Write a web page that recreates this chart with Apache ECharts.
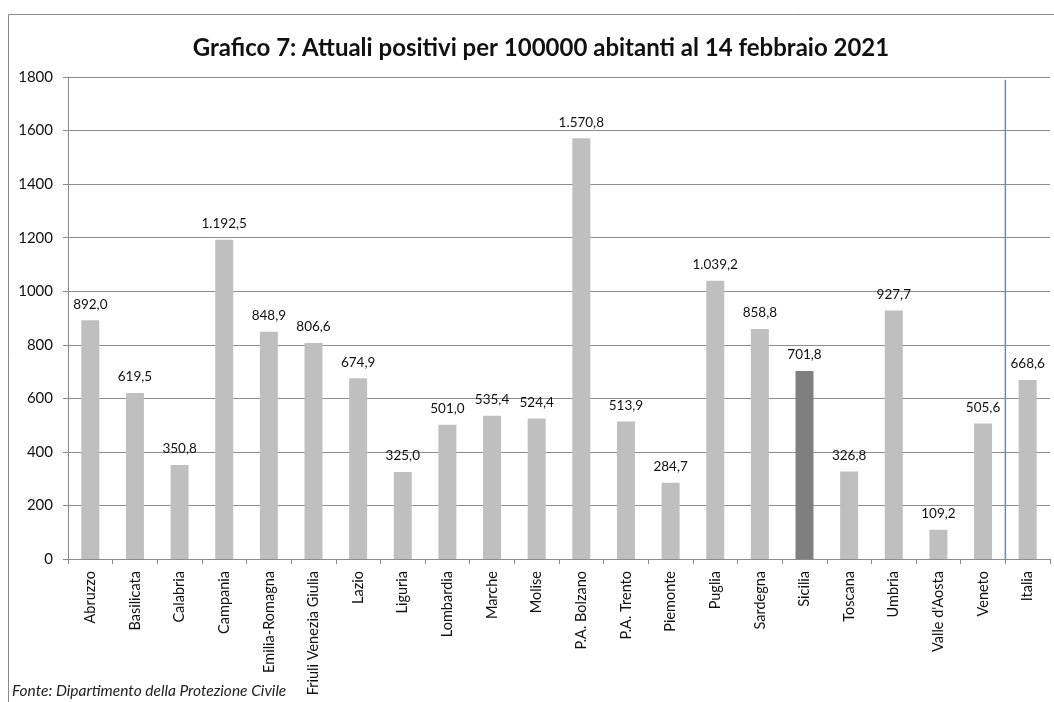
<!DOCTYPE html>
<html><head><meta charset="utf-8">
<script src="https://cdn.jsdelivr.net/npm/echarts@6/dist/echarts.min.js"></script>
<style>html,body{margin:0;padding:0;background:#fff}#c{width:1054px;height:702px}</style>
</head><body><div id="c"></div>
<script>
const categories = ["Abruzzo","Basilicata","Calabria","Campania","Emilia-Romagna","Friuli Venezia Giulia","Lazio","Liguria","Lombardia","Marche","Molise","P.A. Bolzano","P.A. Trento","Piemonte","Puglia","Sardegna","Sicilia","Toscana","Umbria","Valle d'Aosta","Veneto","Italia"];
const values = [892.0,619.5,350.8,1192.5,848.9,806.6,674.9,325.0,501.0,535.4,524.4,1570.8,513.9,284.7,1039.2,858.8,701.8,326.8,927.7,109.2,505.6,668.6];
const highlight = "Sicilia";
const separatorAt = 21; // boundary between Veneto and Italia
const yTicks = [0,200,400,600,800,1000,1200,1400,1600,1800];

function fmt(v){
  const parts = v.toFixed(1).split('.');
  const intPart = parts[0].replace(/\B(?=(\d{3})+(?!\d))/g,'.');
  return intPart + ',' + parts[1];
}
const font = 'Lato, "Liberation Sans", sans-serif';
const chart = echarts.init(document.getElementById('c'), null, {renderer:'canvas'});
chart.setOption({
  animation:false,
  backgroundColor:'#fff',
  title:{text:'Grafico 7: Attuali positivi per 100000 abitanti al 14 febbraio 2021',left:536,textAlign:'center',top:31,
    textStyle:{fontFamily:font,fontWeight:'bold',fontSize:24,color:'#111'}},
  graphic:[
    {type:'rect',shape:{x:8.5,y:14.5,width:1060,height:720},style:{fill:'none',stroke:'#8a8a8a',lineWidth:1},silent:true},
    {type:'text',left:12,top:683,style:{text:'Fonte: Dipartimento della Protezione Civile',font:'italic 15.5px '+font,fill:'#222'}}
  ],
  grid:{left:68,right:4,top:77,bottom:143},
  xAxis:[{type:'category',data:categories,
    axisLine:{lineStyle:{color:'#8c8c8c'}},
    axisTick:{show:true,alignWithLabel:false,length:5,lineStyle:{color:'#8c8c8c'}},
    axisLabel:{rotate:90,interval:0,fontFamily:font,fontSize:14.5,color:'#111',margin:12}},
    {type:'value',min:0,max:22,show:false}],
  yAxis:{type:'value',min:0,max:1800,interval:200,
    axisLine:{show:true,lineStyle:{color:'#8c8c8c'}},
    axisTick:{show:true,length:5,lineStyle:{color:'#8c8c8c'}},
    splitLine:{lineStyle:{color:'#8c8c8c',width:1}},
    axisLabel:{fontFamily:font,fontSize:15,color:'#111',margin:15,
      formatter:function(v){return yTicks.indexOf(v)>=0?String(v):'';}}},
  series:[{type:'bar',barWidth:18,
    data:values.map((v,i)=>({value:v,itemStyle:{color:categories[i]===highlight?'#7f7f7f':'#bfbfbf'}})),
    label:{show:true,position:'top',distance:9,fontFamily:font,fontSize:13.5,color:'#111',formatter:p=>fmt(p.value)}},
    {type:'line',xAxisIndex:1,symbol:'none',lineStyle:{color:'#5b8bd0',width:1.5},
     data:[[separatorAt,0],[separatorAt,1790]],z:5}]
});
</script></body></html>
